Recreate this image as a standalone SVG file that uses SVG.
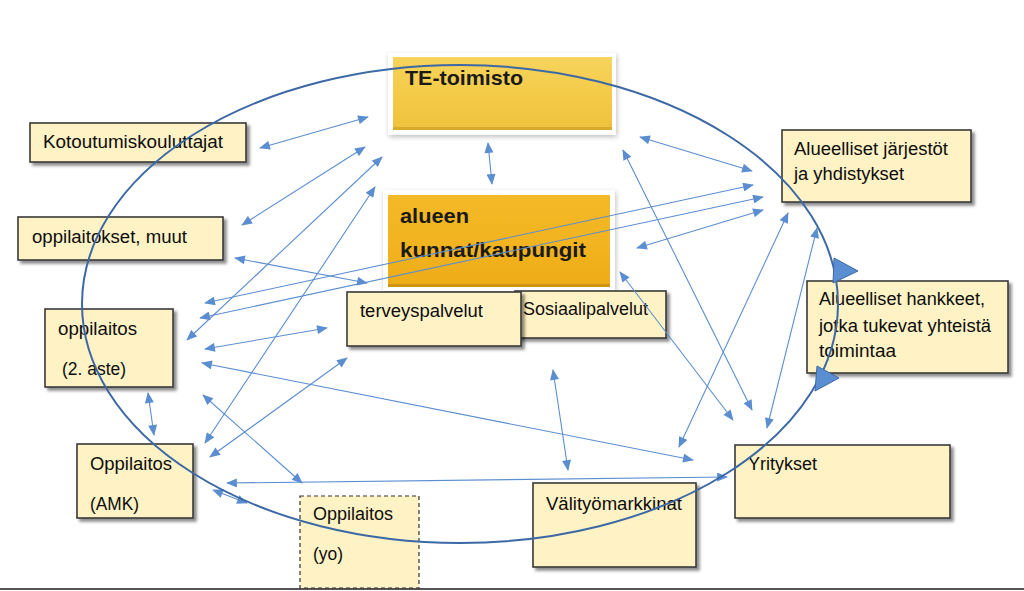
<svg xmlns="http://www.w3.org/2000/svg" width="1024" height="591" viewBox="0 0 1024 591">
<style>
.box{fill:#FFF2C4;stroke:#3A3A3A;stroke-width:1.6;filter:url(#sh)}
.t{font-family:"Liberation Sans",Arial,sans-serif;font-size:17.5px;fill:#0d0d0d}
.tb{font-family:"Liberation Sans",Arial,sans-serif;font-size:21px;font-weight:bold;fill:#1a1a1a}
.c{fill:none;stroke:#5B8ED0;stroke-width:1.1;marker-start:url(#ah);marker-end:url(#ah)}
</style>
<defs>
<filter id="sh" x="-10%" y="-10%" width="130%" height="140%"><feDropShadow dx="3" dy="3" stdDeviation="1.8" flood-color="#000" flood-opacity="0.45"/></filter>
<filter id="glow" x="-10%" y="-10%" width="130%" height="140%"><feDropShadow dx="1" dy="2" stdDeviation="2.5" flood-color="#000" flood-opacity="0.25"/></filter>
<linearGradient id="g1" x1="0" y1="0" x2="0" y2="1"><stop offset="0" stop-color="#F6D45E"/><stop offset="0.5" stop-color="#F3CB48"/><stop offset="1" stop-color="#EFC23C"/></linearGradient>
<linearGradient id="g2" x1="0" y1="0" x2="0" y2="1"><stop offset="0" stop-color="#F4B928"/><stop offset="0.5" stop-color="#F2B420"/><stop offset="1" stop-color="#EDAC18"/></linearGradient>
<marker id="ah" viewBox="0 0 12 10" refX="11" refY="5" markerWidth="12" markerHeight="9" markerUnits="userSpaceOnUse" orient="auto-start-reverse"><path d="M0,0 L12,5 L0,10 z" fill="#5B8ED0"/></marker>
</defs>
<rect width="1024" height="591" fill="#fff"/>
<line x1="0" y1="589" x2="1024" y2="589" stroke="#555" stroke-width="2"/>

<g id="te">
<rect x="388" y="53" width="228" height="82" fill="#fff" filter="url(#glow)"/>
<rect x="393" y="57" width="219" height="73" fill="url(#g1)"/>
<rect x="393" y="127" width="219" height="3" fill="#C99B22" opacity="0.6"/>
<text class="tb" x="405" y="85" textLength="118" lengthAdjust="spacingAndGlyphs">TE-toimisto</text>
</g>
<g id="kunnat">
<rect x="383" y="190" width="232" height="101" fill="#fff" filter="url(#glow)"/>
<rect x="388" y="195" width="222" height="92" fill="url(#g2)"/>
<rect x="388" y="284" width="222" height="3" fill="#B98510" opacity="0.6"/>
<text class="tb" x="400" y="223" textLength="69" lengthAdjust="spacingAndGlyphs">alueen</text>
<text class="tb" x="400" y="257" textLength="186" lengthAdjust="spacingAndGlyphs">kunnat/kaupungit</text>
</g>
<g id="kotoutumis"><rect class="box" x="30" y="123" width="216" height="39"/><text class="t" x="43" y="148" textLength="180" lengthAdjust="spacingAndGlyphs">Kotoutumiskouluttajat</text></g>
<g id="muut"><rect class="box" x="18" y="217" width="205" height="43"/><text class="t" x="32" y="243" textLength="155" lengthAdjust="spacingAndGlyphs">oppilaitokset, muut</text></g>
<g id="aste2"><rect class="box" x="45" y="309" width="128" height="78"/><text class="t" x="58" y="335" textLength="79" lengthAdjust="spacingAndGlyphs">oppilaitos</text><text class="t" x="62" y="375" textLength="64" lengthAdjust="spacingAndGlyphs">(2. aste)</text></g>
<g id="amk"><rect class="box" x="77" y="444" width="116" height="74"/><text class="t" x="90" y="470" textLength="82" lengthAdjust="spacingAndGlyphs">Oppilaitos</text><text class="t" x="90" y="510" textLength="49" lengthAdjust="spacingAndGlyphs">(AMK)</text></g>
<g id="yo"><rect x="300" y="496" width="119" height="92" fill="#FFF2C4" stroke="#333" stroke-width="1.2" stroke-dasharray="4 3"/><text class="t" x="313" y="520" textLength="80" lengthAdjust="spacingAndGlyphs">Oppilaitos</text><text class="t" x="313" y="560" textLength="30" lengthAdjust="spacingAndGlyphs">(yo)</text></g>
<g id="sosiaali"><rect class="box" x="515" y="291" width="151" height="47"/><text class="t" x="523" y="315" textLength="125" lengthAdjust="spacingAndGlyphs">Sosiaalipalvelut</text></g>
<g id="terveys"><rect class="box" x="347" y="292" width="174" height="54"/><text class="t" x="360" y="317" textLength="123" lengthAdjust="spacingAndGlyphs">terveyspalvelut</text></g>
<g id="valityo"><rect class="box" x="533" y="483" width="163" height="84"/><text class="t" x="546" y="510" textLength="136" lengthAdjust="spacingAndGlyphs">Välityömarkkinat</text></g>
<g id="yritykset"><rect class="box" x="735" y="445" width="215" height="73"/><text class="t" x="748" y="470" textLength="69" lengthAdjust="spacingAndGlyphs">Yritykset</text></g>
<g id="jarjestot"><rect class="box" x="782" y="130" width="189" height="72"/><text class="t" x="794" y="155" textLength="154" lengthAdjust="spacingAndGlyphs">Alueelliset järjestöt</text><text class="t" x="794" y="180" textLength="110" lengthAdjust="spacingAndGlyphs">ja yhdistykset</text></g>
<g id="hankkeet"><rect class="box" x="807" y="281" width="201" height="92"/><text class="t" x="819" y="305" textLength="166" lengthAdjust="spacingAndGlyphs">Alueelliset hankkeet,</text><text class="t" x="819" y="332" textLength="172" lengthAdjust="spacingAndGlyphs">jotka tukevat yhteistä</text><text class="t" x="819" y="357" textLength="77" lengthAdjust="spacingAndGlyphs">toimintaa</text></g>

<g id="connectors">
<line class="c" x1="260" y1="148" x2="368" y2="117"/>
<line class="c" x1="242" y1="225" x2="365" y2="147"/>
<line class="c" x1="205" y1="303" x2="753" y2="185"/>
<line class="c" x1="200" y1="318" x2="763" y2="197"/>
<line class="c" x1="763" y1="210" x2="637" y2="248"/>
<line class="c" x1="382" y1="157" x2="187" y2="340"/>
<line class="c" x1="375" y1="187" x2="205" y2="443"/>
<line class="c" x1="205" y1="349" x2="327" y2="328"/>
<line class="c" x1="202" y1="363" x2="693" y2="460"/>
<line class="c" x1="203" y1="395" x2="302" y2="483"/>
<line class="c" x1="210" y1="457" x2="347" y2="358"/>
<line class="c" x1="227" y1="483" x2="727" y2="477"/>
<line class="c" x1="213" y1="490" x2="247" y2="503"/>
<line class="c" x1="148" y1="393" x2="154" y2="435"/>
<line class="c" x1="488" y1="143" x2="492" y2="184"/>
<line class="c" x1="235" y1="258" x2="367" y2="283"/>
<line class="c" x1="553" y1="370" x2="568" y2="470"/>
<line class="c" x1="640" y1="137" x2="752" y2="171"/>
<line class="c" x1="623" y1="150" x2="752" y2="410"/>
<line class="c" x1="620" y1="272" x2="733" y2="420"/>
<line class="c" x1="788" y1="213" x2="679" y2="447"/>
<line class="c" x1="817" y1="228" x2="767" y2="428"/>
<ellipse cx="460" cy="304" rx="378" ry="239" fill="none" stroke="#3C69A6" stroke-width="2"/>
<polygon points="834,258 858,271 833,283" fill="#5B8ED0" stroke="#3C69A6" stroke-width="1"/>
<polygon points="817,366 839,378 815,391" fill="#5B8ED0" stroke="#3C69A6" stroke-width="1"/>
</g>
</svg>
